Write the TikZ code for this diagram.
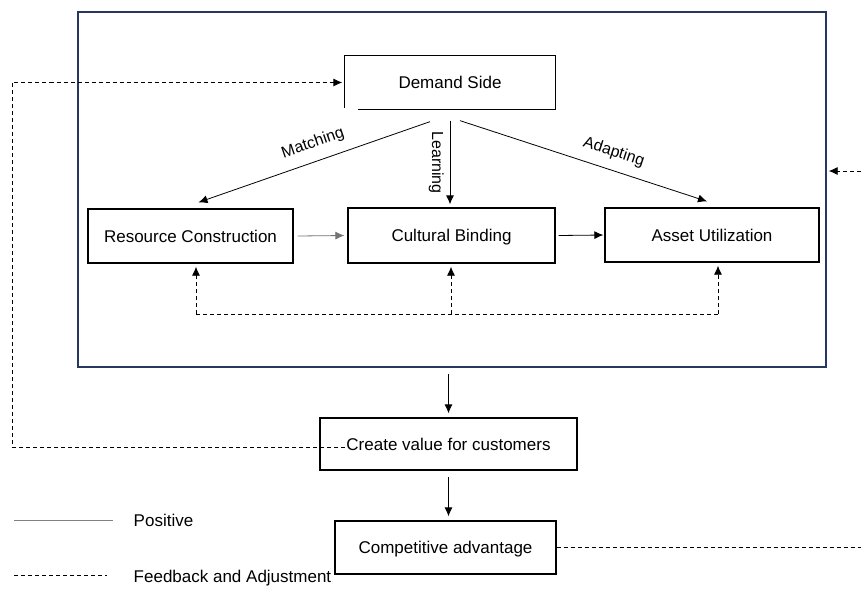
\documentclass[tikz,border=0pt]{standalone}
\usepackage{fontspec}
\setmainfont{Liberation Sans}
\usepackage{tikz}
\usetikzlibrary{arrows.meta,calc,positioning}
\definecolor{framecol}{RGB}{38,56,96}

\begin{document}
\begin{tikzpicture}[x=1pt,y=-1pt,>={Latex[length=9pt,width=8pt]},line width=0.8pt,
		box/.style={draw,line width=1.3pt,inner sep=0pt,text height=12pt,text depth=0pt,font=\fontsize{17}{20}\selectfont},
		lbl/.style={font=\fontsize{16}{18}\selectfont,inner sep=1pt},
		fb/.style={dash pattern=on 4pt off 3pt}]
		\useasboundingbox (0,0) rectangle (861,595);
		
		% outer frame
		\node[draw=framecol,line width=1.3pt,minimum width=748pt,minimum height=355pt,inner sep=0pt] (frame) at (452,189.5) {};
		
		\node[box,draw=none,minimum width=210pt,minimum height=53pt] (DS)  at (450,82.5)  {Demand Side};
		\node[box,minimum width=205pt,minimum height=54pt]           (RC)  at (190.5,236) {Resource Construction};
		\node[box,minimum width=207pt,minimum height=55pt]           (CB)  at (451.5,235.5) {Cultural Binding};
		\node[box,minimum width=214pt,minimum height=54pt]           (AU)  at (712,235)   {Asset Utilization};
		\node[box,minimum width=257pt,minimum height=52pt]           (CV)  at (448.5,444) {Create value for customers};
		\node[box,minimum width=221pt,minimum height=53pt]           (CA)  at (445.5,547.5) {Competitive advantage};
		
		% demand side box, open at lower left
		\draw[line width=1.3pt] ([yshift=2pt]DS.south west) -- (DS.north west) -- (DS.north east)
		      -- (DS.south east) -- ([xshift=14pt]DS.south west);
		
		\draw[->] ([xshift=-20pt,yshift=-12pt]DS.south) -- node[lbl,pos=0.48,above=9pt,sloped] {Matching} ([xshift=8pt,yshift=6pt]RC.north);
		\draw[->] ([yshift=-11pt]DS.south) -- node[lbl,midway,below=5pt,sloped] {Learning} ([xshift=-1.5pt,yshift=3pt]CB.north);
		\draw[->] ([xshift=10pt,yshift=-11pt]DS.south) -- node[lbl,pos=0.6,above=9pt,sloped] {Adapting} ([xshift=-5pt,yshift=6pt]AU.north);
		
		\draw[->,draw=black!55] (RC.east) ++(4pt,0) -- ([xshift=-3pt]CB.west);
		\draw[->] ([xshift=3pt]CB.east) -- ([xshift=-1pt]AU.west);
		
		% feedback between the three parts
		\coordinate (fbl) at (196,314);
		\coordinate (fbm) at (451,314);
		\coordinate (fbr) at (718,314);
		\draw[fb] (fbl) -- (fbr);
		\draw[fb,->,shorten >=3pt] (fbl) -- (fbl |- RC.south);
		\draw[fb,->,shorten >=3pt] (fbm) -- (fbm |- CB.south);
		\draw[fb,->,shorten >=3pt] (fbr) -- (fbr |- AU.south);
		
		\draw[->,shorten <=6pt,shorten >=4pt] (frame.south -| CV.north) -- (CV.north);
		\draw[->,shorten <=6pt,shorten >=4pt] (CV.south) -- (CV.south |- CA.north);
		
		% outer feedback loops
		\coordinate (lc)  at (12,447);
		\coordinate (cvl) at (345,447);
		\draw[fb,->] (cvl) -| (lc |- DS.west) -- ([xshift=-2pt]DS.west);
		\coordinate (re1) at (861,547.5);
		\coordinate (re2) at (861,171);
		\draw[fb] (CA.east) -- (re1);
		\draw[fb,->,shorten >=2pt] (re2) -- (re2 -| frame.east);
		
		% legend
		\node[anchor=west,font=\fontsize{17}{20}\selectfont] (pos) at (130,520) {Positive};
		\node[anchor=west,font=\fontsize{17}{20}\selectfont] (fba) at (130,578) {Feedback and Adjustment};
		\coordinate (lg1) at (14,520);
		\coordinate (lg2) at (14,575);
		\draw[draw=gray] (lg1) -- ++(99,0);
		\draw[fb] (lg2) -- ++(93,0);
\end{tikzpicture}
\end{document}
